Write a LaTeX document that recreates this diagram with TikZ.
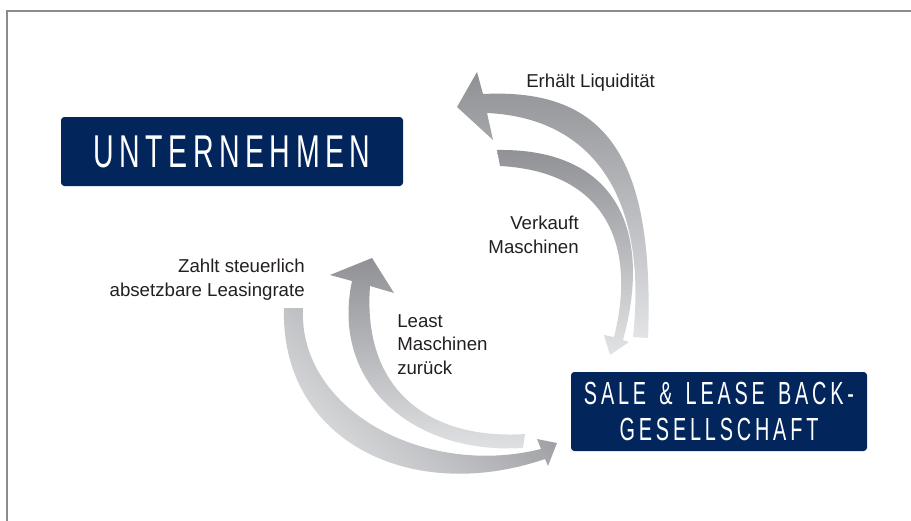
\documentclass[tikz,border=0pt]{standalone}
\usepackage{fontspec}
\setmainfont{Liberation Sans}
\newfontfamily\kastenschrift[FakeStretch=0.62,LetterSpace=12,WordSpace=1.4]{Liberation Sans}

\definecolor{marine}{RGB}{2,37,92}
\definecolor{textgrau}{RGB}{35,31,32}
\definecolor{rahmengrau}{RGB}{140,140,140}
\definecolor{pfeildunkel}{RGB}{143,145,149}
\definecolor{pfeilhell}{RGB}{226,227,229}

\tikzset{
  kasten/.style={fill=marine, text=white, rounded corners=2.5pt, inner sep=0pt},
  beschriftung/.style={text=textgrau, inner sep=0pt, font=\fontsize{14}{17.5}\selectfont},
  pfeil/.style={top color=pfeildunkel, bottom color=pfeilhell}
}

\begin{document}
\begin{tikzpicture}[x=0.75pt, y=-0.75pt]
    \useasboundingbox (0,0) rectangle (911,521);

    % Rahmen oben und links
    \draw[rahmengrau, line width=1.5pt] (7,521) -- (7,11) -- (911,11);

    % Pfeil oben aussen: Liquiditaet zurueck zum Unternehmen
    \shade[pfeil] (633,337) -- (648,338)
        .. controls (655,155) and (605,88) .. (483,94)
        -- (477,72) -- (457,107) -- (493,140) -- (487,113)
        .. controls (595,118) and (648,200) .. (633,337) -- cycle;

    % Pfeil oben innen: Verkauf der Maschinen
    \shade[pfeil] (497,150)
        .. controls (620,148) and (652,235) .. (623,340)
        -- (629,342) -- (610,355) -- (604,335) -- (614,337)
        .. controls (636,250) and (610,172) .. (500,166) -- cycle;

    % Pfeil unten innen: Maschinen zurueck
    \shade[pfeil] (525,434) -- (523,448)
        .. controls (415,455) and (330,385) .. (352,281)
        -- (330,275) -- (372,258) -- (394,293) -- (370,286)
        .. controls (362,395) and (435,440) .. (525,434) -- cycle;

    % Pfeil unten aussen: Leasingrate
    \shade[pfeil, shading angle=-45] (284,308)
        .. controls (280,440) and (410,505) .. (545,459)
        -- (548,466) -- (557,443) -- (537,439) -- (541,449)
        .. controls (425,478) and (298,410) .. (303,308) -- cycle;

    % Kaesten
    \node[kasten, minimum width=256.5pt, minimum height=51.75pt,
        font=\kastenschrift\fontsize{34.5}{40}\selectfont]
        (unternehmen) at (232,151.5) {UNTERNEHMEN};
    \node[kasten, minimum width=222pt, minimum height=59.25pt, align=center,
        font=\kastenschrift\fontsize{24}{27}\selectfont]
        (gesellschaft) at (719,411.5) {SALE \& LEASE BACK-\\GESELLSCHAFT};

    % Beschriftungen (base = letzte Zeile)
    \node[beschriftung, anchor=base west] (liquiditaet) at (526,87) {Erhält Liquidität};
    \node[beschriftung, anchor=base east, align=right] (verkauf) at (579,253) {Verkauft\\Maschinen};
    \node[beschriftung, anchor=base east, align=right] (leasingrate) at (305,296) {Zahlt steuerlich\\absetzbare Leasingrate};
    \node[beschriftung, anchor=base west, align=left] (rueckgabe) at (397,374) {Least\\Maschinen\\zurück};

\end{tikzpicture}
\end{document}
